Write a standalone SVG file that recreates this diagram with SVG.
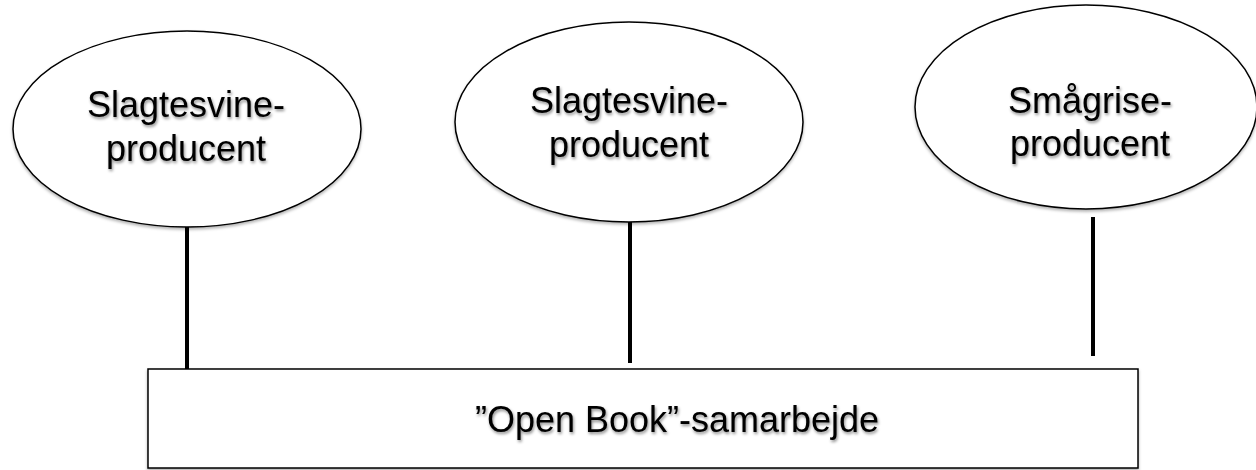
<svg xmlns="http://www.w3.org/2000/svg" width="1256" height="470" viewBox="0 0 1256 470">
<defs>
<filter id="sh" x="-10%" y="-20%" width="120%" height="150%">
<feDropShadow dx="1" dy="2" stdDeviation="1.5" flood-color="#000" flood-opacity="0.45"/>
</filter>
<filter id="shs" x="-5%" y="-5%" width="110%" height="115%">
<feDropShadow dx="0" dy="2" stdDeviation="1.5" flood-color="#000" flood-opacity="0.3"/>
</filter>
</defs>
<style>
.node{fill:#fff;stroke:#000;stroke-width:1.5}
.lbl{font-family:"Liberation Sans",Arial,sans-serif;font-size:36px;fill:#000;text-anchor:middle}
.conn{stroke:#000;stroke-width:4;fill:none}
</style>
<rect width="1256" height="470" fill="#fff"/>
<g id="connectors">
<line class="conn" x1="187" y1="226" x2="187" y2="372"/>
<line class="conn" x1="630" y1="222" x2="630" y2="363"/>
<line class="conn" x1="1093" y1="217" x2="1093" y2="356"/>
</g>
<g id="node1">
<ellipse class="node" cx="187" cy="129" rx="174" ry="98" filter="url(#shs)"/>
<text class="lbl" filter="url(#sh)"><tspan x="186" y="117">Slagtesvine-</tspan><tspan x="186" y="161">producent</tspan></text>
</g>
<g id="node2">
<ellipse class="node" cx="629" cy="122" rx="174" ry="100" filter="url(#shs)"/>
<text class="lbl" filter="url(#sh)"><tspan x="629" y="113">Slagtesvine-</tspan><tspan x="629" y="157">producent</tspan></text>
</g>
<g id="node3">
<ellipse class="node" cx="1086" cy="107" rx="171" ry="102" filter="url(#shs)"/>
<text class="lbl" filter="url(#sh)"><tspan x="1090" y="113">Smågrise-</tspan><tspan x="1090" y="156">producent</tspan></text>
</g>
<g id="node4">
<rect class="node" x="148" y="369" width="990" height="99" filter="url(#shs)"/>
<text class="lbl" x="677" y="432" filter="url(#sh)">”Open Book”-samarbejde</text>
</g>
</svg>
